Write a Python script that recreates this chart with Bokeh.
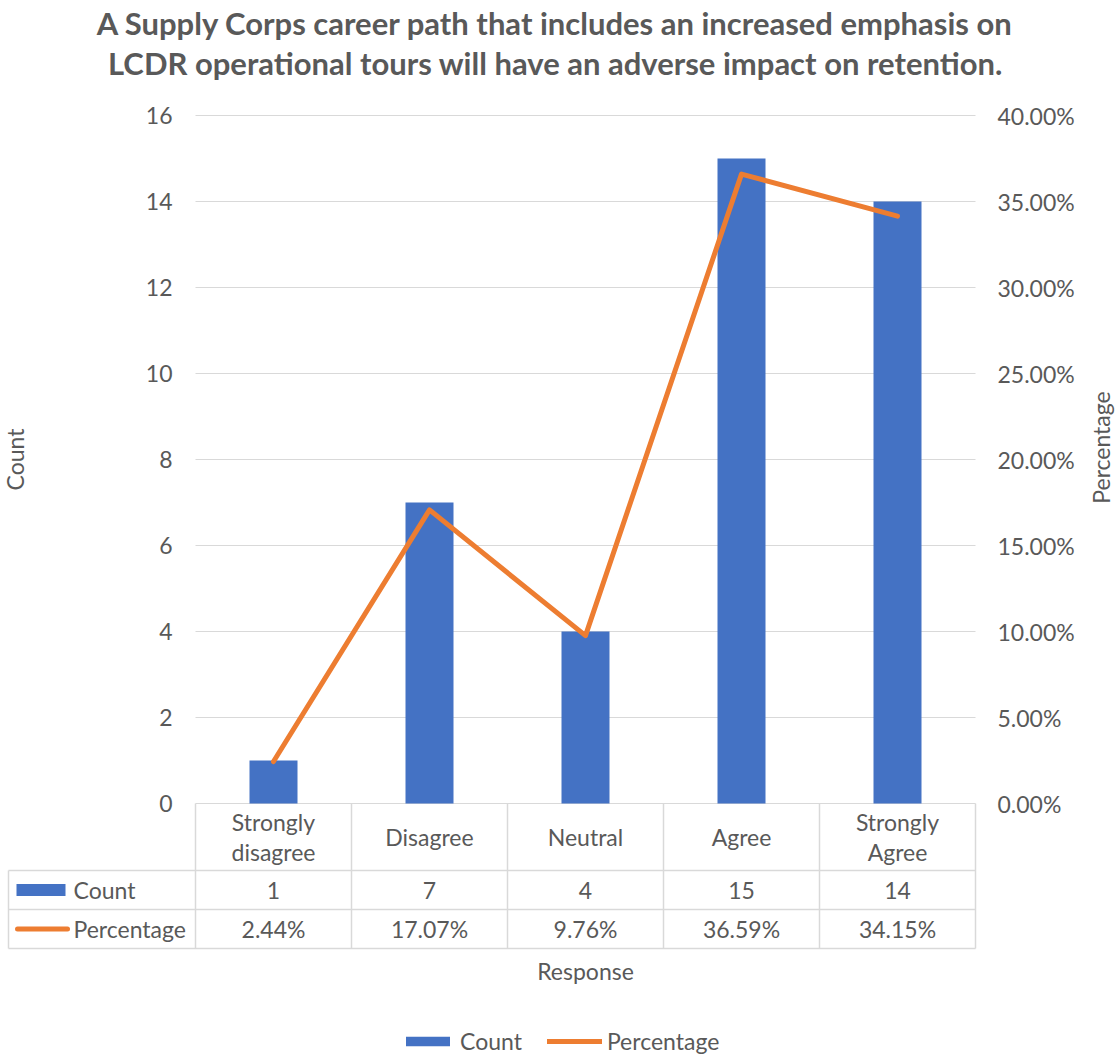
import math

from bokeh.plotting import figure
from bokeh.models import (Range1d, LinearAxis, FixedTicker, PrintfTickFormatter,
                          Legend, LegendItem)
from bokeh.embed import file_html
from bokeh.resources import INLINE
from bokeh.core.properties import value

# ---- data -------------------------------------------------------------
categories = ["Strongly\ndisagree", "Disagree", "Neutral", "Agree", "Strongly\nAgree"]
counts = [1, 7, 4, 15, 14]
percentages = [2.44, 17.07, 9.76, 36.59, 34.15]
count_ticks = [0, 2, 4, 6, 8, 10, 12, 14, 16]
pct_ticks = [0, 5, 10, 15, 20, 25, 30, 35, 40]
title_lines = [
    "A Supply Corps career path that includes an increased emphasis on",
    "LCDR operational tours will have an adverse impact on retention.",
]
series_names = ["Count", "Percentage"]
x_title = "Response"
y_title = "Count"
y2_title = "Percentage"

# ---- style ------------------------------------------------------------
FONT = "Lato"
GREY = "#595959"
BLUE = "#4472C4"
ORANGE = "#ED7D31"
RULE = "#D9D9D9"
FS = "23px"

W, H = 1115, 1057
LEFT, RIGHT = 195, 975          # plot area, horizontal extent in px
TOP, ZERO = 115, 803            # plot area, vertical extent in px
COUNT_MAX, PCT_MAX = 16, 40
n = len(categories)
col_w = (RIGHT - LEFT) / n
unit = (ZERO - TOP) / COUNT_MAX
xs = list(range(n))


def X(px):
    """page x (px) -> category axis units"""
    return -0.5 + (px - LEFT) / col_w


def Y(py):
    """page y (px from top) -> count axis units"""
    return (ZERO - py) / unit


p = figure(width=W, height=H,
           x_range=Range1d(X(0), X(W)), y_range=Range1d(Y(H), Y(0)),
           min_border=0, min_border_left=0, min_border_right=0,
           min_border_top=0, min_border_bottom=0,
           x_axis_location=None, y_axis_location=None,
           output_backend="svg", toolbar_location=None)
p.outline_line_color = None
p.grid.visible = False
p.background_fill_color = "white"
p.border_fill_color = "white"

scale = PCT_MAX / COUNT_MAX
p.extra_y_ranges = {"pct": Range1d(Y(H) * scale, Y(0) * scale)}

# horizontal gridlines of the plot area
p.segment(x0=[-0.5] * len(count_ticks), y0=count_ticks,
          x1=[n - 0.5] * len(count_ticks), y1=count_ticks,
          line_color=RULE, line_width=1)

# bars and percentage line
p.vbar(x=xs, top=counts, width=48 / col_w, fill_color=BLUE, line_color=None)
p.line(x=xs, y=percentages, y_range_name="pct", line_color=ORANGE,
       line_width=5, line_cap="round", line_join="round")


def style_axis(ax):
    ax.axis_line_color = None
    ax.major_tick_line_color = None
    ax.minor_tick_line_color = None
    ax.major_tick_out = 0
    ax.major_tick_in = 0
    ax.major_label_text_font = FONT
    ax.major_label_text_font_size = FS
    ax.major_label_text_color = GREY


la = LinearAxis(fixed_location=-0.5, ticker=FixedTicker(ticks=count_ticks),
                bounds=(0, COUNT_MAX))
style_axis(la)
la.major_label_standoff = 23
p.add_layout(la, "left")

ra = LinearAxis(y_range_name="pct", fixed_location=n - 0.5,
                ticker=FixedTicker(ticks=pct_ticks), bounds=(0, PCT_MAX),
                formatter=PrintfTickFormatter(format="%.2f%%"))
style_axis(ra)
ra.major_label_standoff = 22
p.add_layout(ra, "right")

txt = dict(text_font=value(FONT), text_font_size=FS, text_color=GREY,
           text_baseline="middle")

# axis titles, both reading bottom to top
p.text(x=[X(14), X(1100)], y=[Y(459), Y(447)], text=[y_title, y2_title],
       angle=math.pi / 2, text_align="center", **txt)

# title
p.text(x=[X(555)] * len(title_lines), y=[Y(22), Y(62)], text=title_lines,
       text_align="center", text_baseline="middle",
       text_font=value(FONT), text_font_style="bold",
       text_font_size="31px", text_color=GREY)

# ---- data table under the plot area -----------------------------------
TBL_LEFT = 8
rows = [ZERO, 870, 909, 948]               # row borders, px
xl = X(TBL_LEFT)

p.segment(x0=[xl] * 3, y0=[Y(r) for r in rows[1:]],
          x1=[n - 0.5] * 3, y1=[Y(r) for r in rows[1:]],
          line_color=RULE, line_width=1.5)
vx = [-0.5 + k for k in range(n + 1)] + [xl]
p.segment(x0=vx, y0=[Y(rows[0])] * (n + 1) + [Y(rows[1])],
          x1=vx, y1=[Y(rows[3])] * (n + 2),
          line_color=RULE, line_width=1.5)

hdr_c = Y((rows[0] + rows[1]) / 2)
cnt_c = Y((rows[1] + rows[2]) / 2)
pct_c = Y((rows[2] + rows[3]) / 2)

p.text(x=xs, y=[hdr_c] * n, text=categories, text_align="center",
       text_line_height=1.1, **txt)
p.text(x=xs, y=[cnt_c] * n, text=[str(c) for c in counts],
       text_align="center", **txt)
p.text(x=xs, y=[pct_c] * n, text=[f"{v:.2f}%" for v in percentages],
       text_align="center", **txt)

# series keys in the first column
key_bar = p.rect(x=[(X(16) + X(65)) / 2], y=[cnt_c], width=X(65) - X(16),
                 height=12 / unit, fill_color=BLUE, line_color=None)
key_line = p.line(x=[X(17), X(67)], y=[pct_c, pct_c], line_color=ORANGE,
                  line_width=5, line_cap="round")
p.text(x=[X(73)] * 2, y=[cnt_c, pct_c], text=series_names,
       text_align="left", **txt)

p.text(x=[(n - 1) / 2], y=[Y(970)], text=[x_title], text_align="center", **txt)

legend = Legend(items=[LegendItem(label=series_names[0], renderers=[key_bar]),
                       LegendItem(label=series_names[1], renderers=[key_line])],
                orientation="horizontal", location=(400, 2),
                glyph_width=55, glyph_height=12, label_standoff=5,
                spacing=25, padding=0, margin=0,
                border_line_color=None, background_fill_alpha=0,
                label_text_font=FONT, label_text_font_size=FS,
                label_text_color=GREY)
p.add_layout(legend)

open("out.html", "w").write(file_html(p, INLINE))
